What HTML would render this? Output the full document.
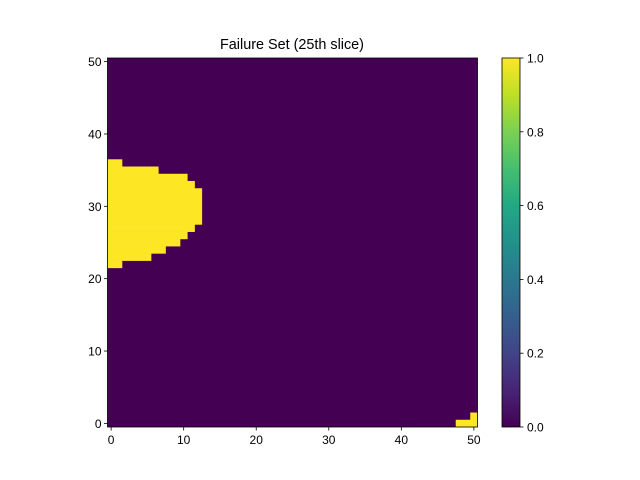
<!DOCTYPE html>
<html><head><meta charset="utf-8"><style>body{margin:0;background:#fff}svg{display:block;font-family:"Liberation Sans","DejaVu Sans",sans-serif}</style></head>
<body>
<svg id="c" width="640" height="480">
<defs><linearGradient id="vir" x1="0" y1="1" x2="0" y2="0">
<stop offset="0" stop-color="#440154"/><stop offset="0.1" stop-color="#482475"/><stop offset="0.2" stop-color="#414487"/><stop offset="0.3" stop-color="#355f8d"/><stop offset="0.4" stop-color="#2a788e"/><stop offset="0.5" stop-color="#21918c"/><stop offset="0.6" stop-color="#22a884"/><stop offset="0.7" stop-color="#44bf70"/><stop offset="0.8" stop-color="#7ad151"/><stop offset="0.9" stop-color="#bddf26"/><stop offset="1" stop-color="#fde725"/></linearGradient></defs>
</svg>
<script>
// rows of failure region: [row, xStart, xEnd]
const rows = [22,23,24,25,26,27,28,29,30,31,32,33,34,35,36,0,1];
const xStarts = [0,0,0,0,0,0,0,0,0,0,0,0,0,0,0,48,50];
const xEnds = [1,5,7,9,10,11,12,12,12,12,12,11,10,6,1,50,50];
const xTicks = [0,10,20,30,40,50];
const yTicks = [0,10,20,30,40,50];
const cbTicks = [0,0.2,0.4,0.6,0.8,1.0];
const N = 51;
const svg = document.getElementById('c');
const NS = 'http://www.w3.org/2000/svg';
const L=107.5, R=477.5, T=58, B=427;
const sx = v => L + (v+0.5)*(R-L)/N;
const sy = v => B - (v+0.5)*(B-T)/N;
function mk(t,a,p){const e=document.createElementNS(NS,t);for(const k in a)e.setAttribute(k,a[k]);(p||svg).appendChild(e);return e;}
let bg=mk('rect',{x:L,y:T,width:R-L,height:B-T,fill:'#440154'});


const cw=(R-L)/N;
rows.forEach((r,i)=>{
  const c=mk('rect',{x:sx(xStarts[i])-cw/2,y:sy(r)-cw/2,width:(xEnds[i]-xStarts[i]+1)*cw+0.3,height:cw+0.3,fill:'#fde725'});
  
  
});
let fr=mk('rect',{x:L,y:T,width:R-L,height:B-T,fill:'none',stroke:'#000','stroke-width':0.8});


xTicks.forEach(v=>{
  mk('line',{x1:sx(v),x2:sx(v),y1:B,y2:B+3.5,stroke:'#000','stroke-width':0.8});
  const t=mk('text',{x:sx(v),y:B+17,'font-size':12,'text-anchor':'middle'});t.textContent=v;
  
  
});
yTicks.forEach(v=>{
  mk('line',{x1:L-3.5,x2:L,y1:sy(v),y2:sy(v),stroke:'#000','stroke-width':0.8});
  const t=mk('text',{x:L-6,y:sy(v)+4.5,'font-size':12,'text-anchor':'end'});t.textContent=v;
  
  
});
const ti=mk('text',{x:292,y:49,'font-size':14.4,'text-anchor':'middle'});ti.textContent='Failure Set (25th slice)';


const CL=502,CR=520;
const cb=mk('rect',{x:CL,y:T,width:CR-CL,height:B-T,fill:'url(#vir)',stroke:'#000','stroke-width':0.8});


cbTicks.forEach(v=>{
  const y=B-v*(B-T);
  mk('line',{x1:CR,x2:CR+3.5,y1:y,y2:y,stroke:'#000','stroke-width':0.8});
  const t=mk('text',{x:CR+7,y:y+4.5,'font-size':12});t.textContent=v.toFixed(1);
  
  
});
</script>
</body></html>
